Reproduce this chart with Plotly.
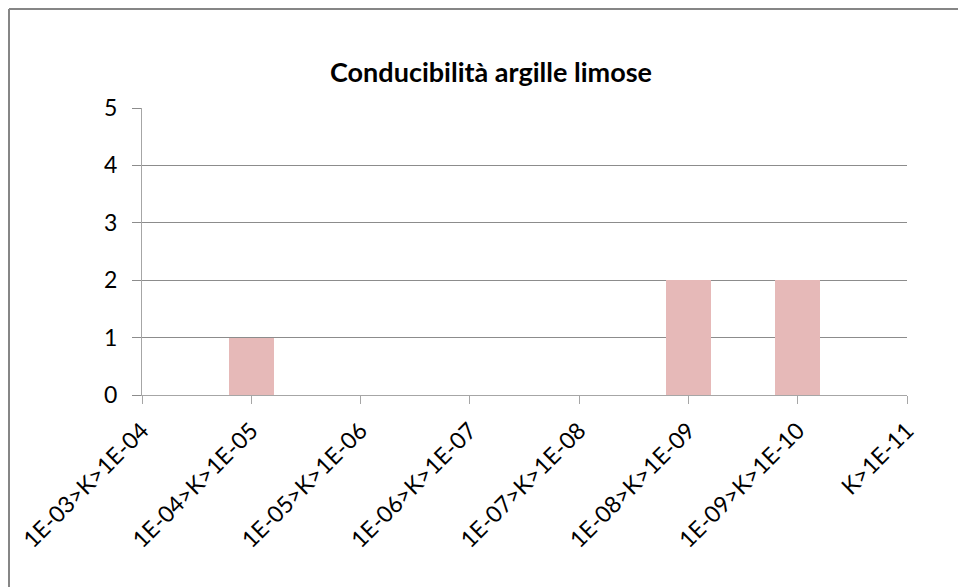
import plotly.graph_objects as go

# conductivity classes (K in m/s) and number of samples in each
categories = [
    "1E-03>K>1E-04",
    "1E-04>K>1E-05",
    "1E-05>K>1E-06",
    "1E-06>K>1E-07",
    "1E-07>K>1E-08",
    "1E-08>K>1E-09",
    "1E-09>K>1E-10",
    "K>1E-11",
]
counts = [0, 1, 0, 0, 0, 2, 2, 0]
y_ticks = [0, 1, 2, 3, 4, 5]

title = "Conducibilità argille limose"

FONT = "Lato"
GRID = "#8c8c8c"
AXIS = "#a6a6a6"
FRAME = "#868686"

W, H = 958, 587
L, R, T, B = 142, 51, 108, 192
plot_w = W - L - R
plot_h = H - T - B

fig = go.Figure(
    go.Bar(
        x=categories,
        y=counts,
        width=0.41,
        marker=dict(color="#e6b9b8", line=dict(width=0)),
        showlegend=False,
    )
)

fig.update_layout(
    width=W,
    height=H,
    margin=dict(l=L, r=R, t=T, b=B),
    paper_bgcolor="white",
    plot_bgcolor="white",
    font=dict(family=FONT, color="black"),
    title=dict(
        text="<b>" + title + "</b>",
        font=dict(family=FONT, size=27, color="black"),
        xref="container",
        yref="container",
        x=491 / W,
        y=1 - 73 / H,
        xanchor="center",
        yanchor="middle",
    ),
    bargap=0,
)

fig.update_xaxes(
    type="category",
    range=[0, 7],
    tickangle=-45,
    tickfont=dict(size=23),
    ticks="outside",
    ticklen=8,
    tickcolor=AXIS,
    showline=True,
    linecolor=AXIS,
    linewidth=1,
    showgrid=False,
    ticklabelstandoff=4,
    automargin=False,
)

fig.update_yaxes(
    range=[0, 5],
    tickvals=y_ticks,
    tickfont=dict(size=23),
    ticks="outside",
    ticklen=9,
    tickcolor=GRID,
    showline=True,
    linecolor=AXIS,
    linewidth=1,
    showgrid=True,
    gridcolor=GRID,
    gridwidth=1,
    zeroline=False,
    ticklabelstandoff=10,
    automargin=False,
)

# chart-area frame: only its top and left edges fall inside the picture
x_left = (9 - L) / plot_w
x_right = (W - L) / plot_w
y_top = (H - B - 9) / plot_h
y_bottom = -B / plot_h
fig.add_shape(type="line", xref="paper", yref="paper",
              x0=x_left, x1=x_right, y0=y_top, y1=y_top,
              line=dict(color=FRAME, width=2))
fig.add_shape(type="line", xref="paper", yref="paper",
              x0=x_left, x1=x_left, y0=y_bottom, y1=y_top,
              line=dict(color=FRAME, width=2))

# drop the default page margin so the figure fills the window
fig.write_html(
    "out.html",
    config={"displayModeBar": False},
    post_script="document.body.style.margin='0';document.body.style.overflow='hidden';",
)
